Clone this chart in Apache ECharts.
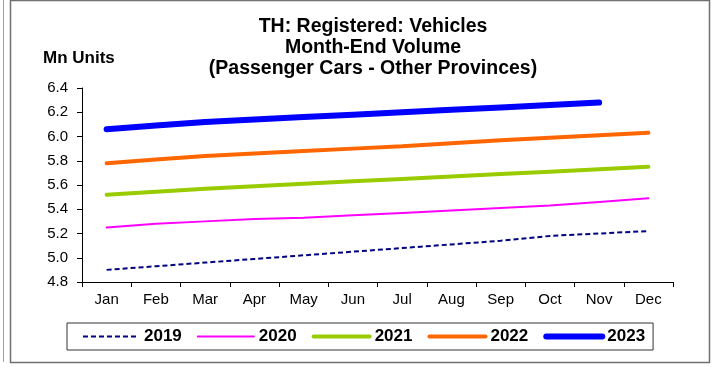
<!DOCTYPE html>
<html>
<head>
<meta charset="utf-8">
<script src="https://cdn.jsdelivr.net/npm/echarts@6/dist/echarts.min.js"></script>
<style>
  html, body { margin: 0; padding: 0; background: #ffffff; }
  #chart { width: 712px; height: 367px; }
</style>
</head>
<body>
<div id="chart"></div>
<script>
// Month-end registered passenger cars, other provinces (million units)
const months = ['Jan', 'Feb', 'Mar', 'Apr', 'May', 'Jun', 'Jul', 'Aug', 'Sep', 'Oct', 'Nov', 'Dec'];
const yTicks = [4.8, 5.0, 5.2, 5.4, 5.6, 5.8, 6.0, 6.2, 6.4];
const v2019 = [4.90, 4.93, 4.96, 4.99, 5.02, 5.05, 5.08, 5.11, 5.14, 5.18, 5.20, 5.22];
const v2020 = [5.25, 5.28, 5.30, 5.32, 5.33, 5.35, 5.37, 5.39, 5.41, 5.43, 5.46, 5.49];
const v2021 = [5.52, 5.545, 5.57, 5.59, 5.61, 5.63, 5.65, 5.67, 5.69, 5.71, 5.73, 5.75];
const v2022 = [5.78, 5.81, 5.84, 5.86, 5.88, 5.90, 5.92, 5.945, 5.97, 5.99, 6.01, 6.03];
const v2023 = [6.06, 6.09, 6.12, 6.14, 6.16, 6.18, 6.20, 6.22, 6.24, 6.26, 6.28];

const FONT = 'Liberation Sans, Arial, sans-serif';

function lineSeries(name, data, color, width, dashed) {
  return {
    name: name,
    type: 'line',
    data: data,
    symbol: 'none',
    smooth: false,
    lineStyle: { color: color, width: width, type: dashed ? [5, 3] : 'solid', cap: dashed ? 'butt' : 'round' },
    itemStyle: { color: color },
    emphasis: { disabled: true },
    animation: false
  };
}

const chart = echarts.init(document.getElementById('chart'), null, { renderer: 'canvas' });
chart.setOption({
  backgroundColor: '#ffffff',
  animation: false,
  title: {
    text: 'TH: Registered: Vehicles\nMonth-End Volume\n(Passenger Cars - Other Provinces)',
    left: 373,
    textAlign: 'center',
    top: 15.5,
    padding: 0,
    textStyle: { fontFamily: FONT, fontSize: 19.5, fontWeight: 'bold', color: '#000', lineHeight: 21.3 }
  },
  graphic: [
    { type: 'rect', shape: { x: 10.5, y: 0.5, width: 699, height: 362 },
      style: { fill: 'none', stroke: '#707070', lineWidth: 1.5 }, silent: true },
    { type: 'line', shape: { x1: 3.5, y1: 0, x2: 3.5, y2: 362 },
      style: { stroke: '#a0a0a0', lineWidth: 1 }, silent: true },
    { type: 'text', x: 43, y: 58,
      style: { text: 'Mn Units', font: 'bold 17px ' + FONT, fill: '#000', verticalAlign: 'middle' } }
  ],
  legend: {
    left: 67,
    top: 323,
    orient: 'horizontal',
    padding: [5, 8, 5, 15],
    itemGap: 15,
    itemWidth: 56,
    itemHeight: 16,
    borderColor: '#333',
    borderWidth: 1,
    itemStyle: { opacity: 0 },
    lineStyle: { width: 'inherit' },
    textStyle: { fontFamily: FONT, fontSize: 17, fontWeight: 'bold', color: '#000' },
    data: ['2019', '2020', '2021', '2022', '2023']
  },
  grid: { left: 82, right: 39, top: 88, bottom: 85 },
  xAxis: {
    type: 'category',
    data: months,
    boundaryGap: true,
    axisLine: { lineStyle: { color: '#000', width: 1 } },
    axisTick: { show: true, length: 5, lineStyle: { color: '#000' } },
    axisLabel: { fontFamily: FONT, fontSize: 15, color: '#000', margin: 10 },
    splitLine: { show: false }
  },
  yAxis: {
    type: 'value',
    min: yTicks[0],
    max: yTicks[yTicks.length - 1],
    interval: 0.2,
    axisLine: { show: true, lineStyle: { color: '#000', width: 1 } },
    axisTick: { show: true, length: 5, lineStyle: { color: '#000' } },
    axisLabel: { fontFamily: FONT, fontSize: 15, color: '#000', margin: 14,
      formatter: v => v.toFixed(1) },
    splitLine: { show: false }
  },
  series: [
    lineSeries('2019', v2019, '#000080', 2, true),
    lineSeries('2020', v2020, '#ff00ff', 2, false),
    lineSeries('2021', v2021, '#99cc00', 4, false),
    lineSeries('2022', v2022, '#ff6600', 4, false),
    lineSeries('2023', v2023, '#0000ff', 6, false)
  ]
});
</script>
</body>
</html>
